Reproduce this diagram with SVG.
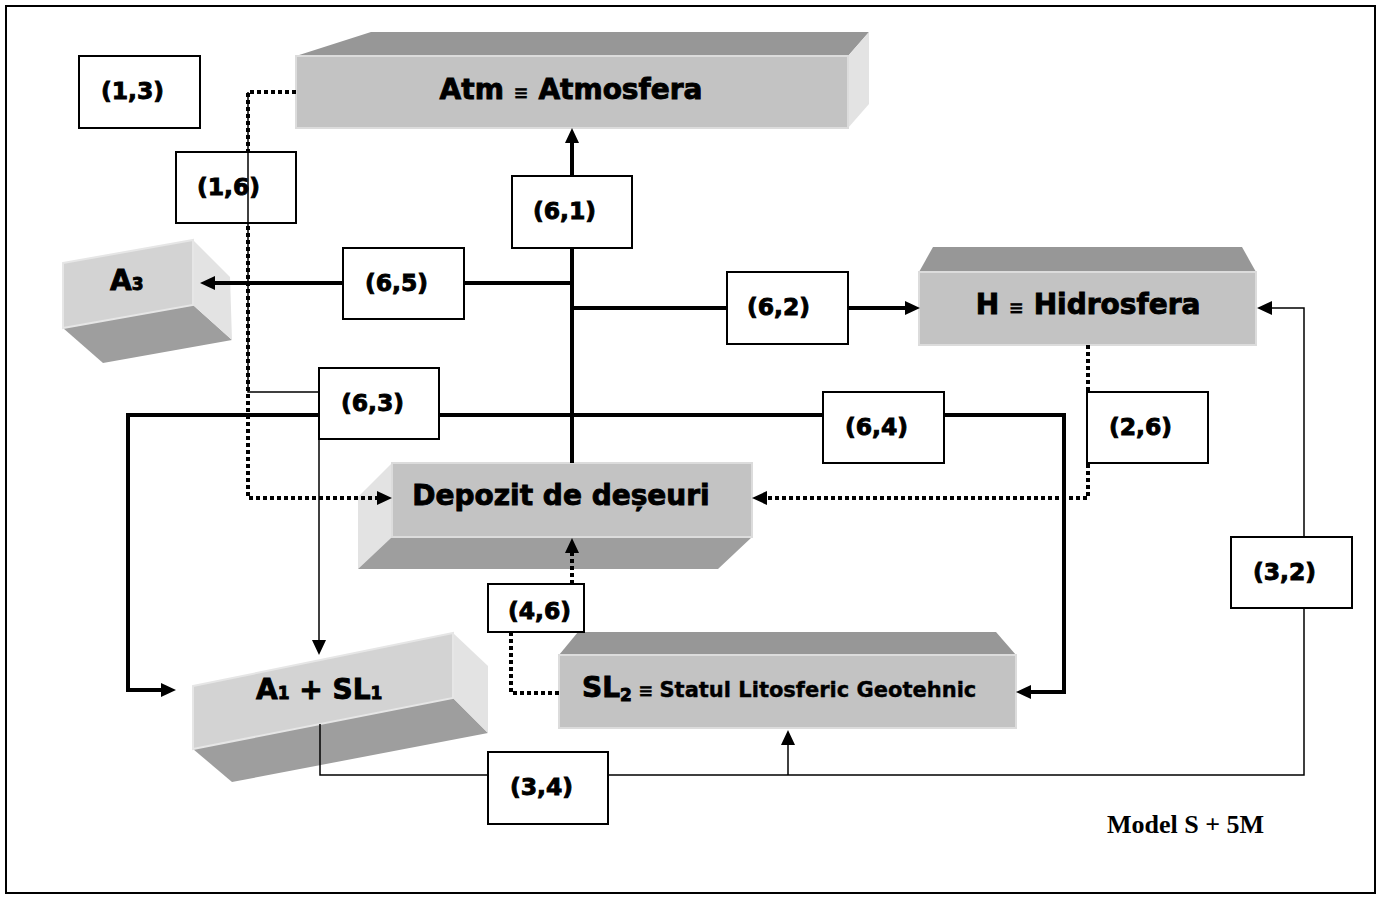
<svg xmlns="http://www.w3.org/2000/svg" width="1385" height="897" viewBox="0 0 1385 897">
  <defs>
    <style>
      .front { fill: #c3c3c3; stroke: #dcdcdc; stroke-width: 2; }
      .front2 { fill: #d3d3d3; stroke: #e6e6e6; stroke-width: 2; }
      .top { fill: #979797; }
      .side { fill: #e3e3e3; }
      .under { fill: #9e9e9e; }
      .lbl { fill: #ffffff; stroke: #000000; stroke-width: 2; }
      .lt { font-family: "DejaVu Sans", "Liberation Sans", sans-serif; font-weight: bold; font-size: 23.5px; fill: #000; stroke: #000; stroke-width: 0.9; }
      .big { font-family: "DejaVu Sans", "Liberation Sans", sans-serif; font-weight: bold; font-size: 28px; fill: #000; stroke: #000; stroke-width: 0.9; }
      .eq { font-size: 18px; stroke-width: 0.3; }
      .sub { font-size: 17px; }
      .small { font-size: 21px; stroke-width: 0.4; }
      .thick { fill: none; stroke: #000; stroke-width: 4; }
      .thin { fill: none; stroke: #000; stroke-width: 1.5; }
      .dot { fill: none; stroke: #000; stroke-width: 4; stroke-dasharray: 4 3; }
    </style>
    <marker id="ah" markerUnits="userSpaceOnUse" markerWidth="16" markerHeight="16" refX="0" refY="7" orient="auto">
      <path d="M0,0 L15,7 L0,14 z" fill="#000"/>
    </marker>
  </defs>

  <rect x="0" y="0" width="1385" height="897" fill="#ffffff"/>
  <rect x="6" y="6" width="1369" height="887" fill="none" stroke="#000" stroke-width="2"/>

  <!-- 3D blocks -->
  <g id="atm">
    <polygon class="top" points="296,56 371,32 869,32 848,56"/>
    <polygon class="side" points="848,56 869,32 869,104 848,128"/>
    <rect class="front" x="296" y="56" width="552" height="72"/>
    <text class="big" x="571" y="99" text-anchor="middle">Atm <tspan class="eq">≡</tspan> Atmosfera</text>
  </g>

  <g id="hidrosfera">
    <polygon class="top" points="919,272 933,247 1242,247 1256,272"/>
    <rect class="front" x="919" y="272" width="337" height="73"/>
    <text class="big" x="1088" y="314" text-anchor="middle">H <tspan class="eq">≡</tspan> Hidrosfera</text>
  </g>

  <g id="a3">
    <polygon class="under" points="63,328 193,305 232,340 103,363"/>
    <polygon class="side" points="193,240 230,277 232,340 193,305"/>
    <polygon class="front2" points="63,263 193,240 193,305 63,328"/>
    <text class="big" x="110" y="290" font-size="27">A<tspan class="sub">3</tspan></text>
  </g>

  <g id="depozit">
    <polygon class="side" points="392,463 358,497 358,569 392,537"/>
    <polygon class="under" points="392,537 752,537 718,569 358,569"/>
    <rect class="front" x="392" y="463" width="360" height="74"/>
    <text class="big" x="561" y="505" text-anchor="middle">Depozit de deșeuri</text>
  </g>

  <g id="sl2">
    <polygon class="top" points="559,655 578,632 996,632 1016,655"/>
    <rect class="front" x="559" y="655" width="457" height="73"/>
    <text class="big" x="582" y="697">SL<tspan class="sub" dy="4">2</tspan><tspan class="eq" dy="-4"> ≡ </tspan><tspan class="small">Statul Litosferic Geotehnic</tspan></text>
  </g>

  <g id="a1sl1">
    <polygon class="under" points="193,749 453,698 488,733 232,782"/>
    <polygon class="side" points="453,633 488,666 488,733 453,698"/>
    <polygon class="front2" points="193,686 453,633 453,698 193,749"/>
    <text class="big" x="256" y="699" font-size="27">A<tspan class="sub">1</tspan> + SL<tspan class="sub">1</tspan></text>
  </g>

  <!-- connectors -->
  <g id="connectors">
    <!-- from the waste deposit -->
    <path class="thick" d="M572,463 V143" marker-end="url(#ah)"/>
    <path class="thick" d="M572,283 H215" marker-end="url(#ah)"/>
    <path class="thick" d="M572,308 H905" marker-end="url(#ah)"/>
    <path class="thick" d="M572,415 H128 V690 H161" marker-end="url(#ah)"/>
    <path class="thick" d="M572,415 H1064 V692 H1031" marker-end="url(#ah)"/>
    <path class="thin" d="M319,439 V640" marker-end="url(#ah)"/>
    <path class="thin" d="M319,392 H248 V92"/>
    <!-- dotted flows into the deposit -->
    <path class="dot" d="M296,92 H248 V498 H377" marker-end="url(#ah)"/>
    <path class="dot" d="M1088,345 V498 H767" marker-end="url(#ah)"/>
    <path class="dot" d="M572,584 V553" marker-end="url(#ah)"/>
    <path class="dot" d="M511,632 V693 H559"/>
    <!-- thin links along the bottom -->
    <path class="thin" d="M320,724 V775 H1304 V308 H1272" marker-end="url(#ah)"/>
    <path class="thin" d="M788,775 V745" marker-end="url(#ah)"/>
  </g>

  <!-- pair labels -->
  <g id="l13"><rect class="lbl" x="79" y="56" width="121" height="72"/><text class="lt" x="101" y="99">(1,3)</text></g>
  <g id="l16"><rect class="lbl" x="176" y="152" width="120" height="71"/><text class="lt" x="197" y="195">(1,6)</text></g>
  <g id="l61"><rect class="lbl" x="512" y="176" width="120" height="72"/><text class="lt" x="533" y="219">(6,1)</text></g>
  <g id="l65"><rect class="lbl" x="343" y="248" width="121" height="71"/><text class="lt" x="365" y="291">(6,5)</text></g>
  <g id="l62"><rect class="lbl" x="727" y="272" width="121" height="72"/><text class="lt" x="747" y="315">(6,2)</text></g>
  <g id="l63"><rect class="lbl" x="319" y="368" width="120" height="71"/><text class="lt" x="341" y="411">(6,3)</text></g>
  <g id="l64"><rect class="lbl" x="823" y="392" width="121" height="71"/><text class="lt" x="845" y="435">(6,4)</text></g>
  <g id="l26"><rect class="lbl" x="1087" y="392" width="121" height="71"/><text class="lt" x="1109" y="435">(2,6)</text></g>
  <g id="l32"><rect class="lbl" x="1231" y="537" width="121" height="71"/><text class="lt" x="1253" y="580">(3,2)</text></g>
  <g id="l46"><rect class="lbl" x="488" y="584" width="96" height="48"/><text class="lt" x="508" y="619" font-size="19">(4,6)</text></g>
  <g id="l34"><rect class="lbl" x="488" y="752" width="120" height="72"/><text class="lt" x="510" y="795">(3,4)</text></g>

  <!-- line crossing the (1,6) label -->
  <path class="thin" d="M248,152 V223"/>

  <text x="1107" y="833" font-family="'Liberation Serif', serif" font-weight="bold" font-size="26" fill="#000">Model S + 5M</text>
</svg>
